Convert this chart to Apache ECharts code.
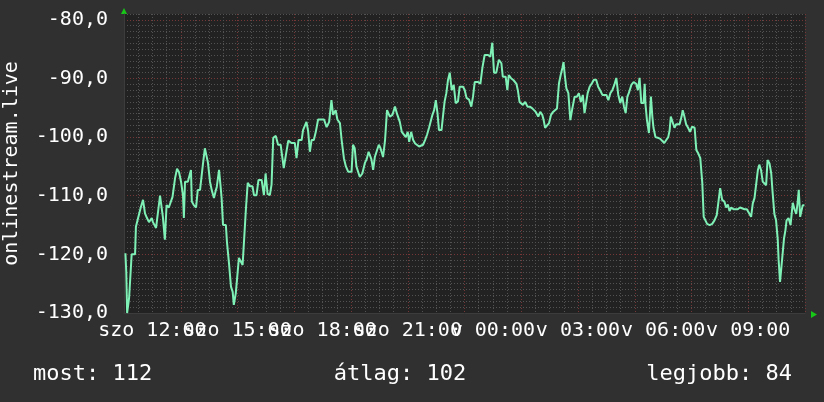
<!DOCTYPE html>
<html>
<head>
<meta charset="utf-8">
<script src="https://cdn.jsdelivr.net/npm/echarts@6/dist/echarts.min.js"></script>
<style>
html, body { margin: 0; padding: 0; background: #303030; }
#chart { width: 824px; height: 402px; }
</style>
</head>
<body>
<div id="chart"></div>
<script>
// hours since saturday 00:00 (11 = szo 11:00, 35 = v 11:00)
const hours = [
  11.05, 11.08, 11.11, 11.14, 11.18, 11.24, 11.27, 11.39, 11.42, 11.49, 11.59, 11.67, 11.74, 11.81, 11.88, 11.98,
  12.02, 12.13, 12.20, 12.27, 12.34, 12.37, 12.44, 12.50, 12.58, 12.64, 12.71, 12.80, 12.87, 12.94,
  13.01, 13.08, 13.11, 13.15, 13.25, 13.32, 13.36, 13.39, 13.46, 13.54, 13.60, 13.68, 13.74, 13.78, 13.85, 13.91, 13.96,
  14.03, 14.09, 14.17, 14.24, 14.27, 14.35, 14.40, 14.44, 14.49, 14.59, 14.63, 14.70, 14.77, 14.83, 14.87, 14.94,
  15.00, 15.05, 15.12, 15.18, 15.25, 15.30, 15.36, 15.44, 15.53, 15.58, 15.67, 15.74, 15.85, 15.93, 15.99,
  16.06, 16.14, 16.20, 16.26, 16.35, 16.43, 16.52, 16.57, 16.63, 16.70, 16.79, 16.85, 16.90,
  17.02, 17.08, 17.15, 17.26, 17.31, 17.43, 17.49, 17.55, 17.61, 17.69, 17.76, 17.84, 17.96,
  18.05, 18.14, 18.23, 18.31, 18.37, 18.46, 18.52, 18.61, 18.67, 18.75, 18.82, 18.90,
  19.02, 19.07, 19.13, 19.19, 19.25, 19.31, 19.40, 19.49, 19.55, 19.62, 19.66, 19.72, 19.78, 19.84, 19.92, 19.98,
  20.04, 20.13, 20.20, 20.27, 20.37, 20.46, 20.55, 20.62, 20.72, 20.79, 20.86, 20.93,
  21.00, 21.05, 21.12, 21.19, 21.26, 21.33, 21.40, 21.47, 21.54, 21.61, 21.68, 21.75, 21.81, 21.87, 21.93, 21.99,
  22.05, 22.10, 22.19, 22.24, 22.30, 22.36, 22.42, 22.48, 22.55, 22.62, 22.69, 22.77, 22.83, 22.95,
  23.01, 23.07, 23.16, 23.24, 23.30, 23.36, 23.48, 23.56, 23.63, 23.71, 23.83, 23.91, 23.98,
  24.04, 24.12, 24.21, 24.30, 24.35, 24.45, 24.51, 24.56, 24.65, 24.73, 24.83, 24.88, 24.94,
  25.00, 25.06, 25.14, 25.22, 25.30, 25.39, 25.45, 25.51, 25.60, 25.67, 25.74, 25.79, 25.84, 25.91, 25.98,
  26.05, 26.12, 26.19, 26.26, 26.33, 26.39, 26.45, 26.49, 26.54, 26.59, 26.66, 26.73, 26.79, 26.88, 26.96,
  27.03, 27.10, 27.17, 27.23, 27.29, 27.34, 27.41, 27.49, 27.56, 27.64, 27.71, 27.78, 27.86, 27.93,
  28.00, 28.07, 28.14, 28.21, 28.28, 28.35, 28.42, 28.49, 28.56, 28.62, 28.68, 28.74, 28.79, 28.88, 28.96,
  29.05, 29.11, 29.17, 29.23, 29.31, 29.35, 29.38, 29.43, 29.50, 29.57, 29.62, 29.66, 29.73, 29.81, 29.90, 29.97,
  30.04, 30.11, 30.18, 30.23, 30.27, 30.34, 30.40, 30.46, 30.52, 30.58, 30.65, 30.69, 30.75, 30.81, 30.88, 30.95,
  31.02, 31.11, 31.17, 31.24, 31.31, 31.38, 31.43, 31.49, 31.55, 31.64, 31.73, 31.81, 31.89, 31.96,
  32.01, 32.08, 32.16, 32.22, 32.28, 32.34, 32.40, 32.48, 32.55, 32.63, 32.71, 32.78, 32.87, 32.95,
  33.02, 33.10, 33.16, 33.22, 33.28, 33.34, 33.39, 33.45, 33.51, 33.57, 33.63, 33.68, 33.75, 33.81, 33.86, 33.92, 33.98,
  34.04, 34.07, 34.12, 34.17, 34.21, 34.26, 34.31, 34.35, 34.42, 34.49, 34.57, 34.63, 34.69, 34.74, 34.78, 34.83, 34.88, 34.92, 34.98
];
const signal = [
  -119.8, -123, -130, -130, -127.4, -127.4, -120, -120, -115.3, -115, -112, -110.7, -113, -113.8, -114.5, -113.8,
  -114.5, -115.5, -115.5, -110, -110.2, -113.6, -117.5, -111.6, -112, -112.3, -110.2, -107, -105.4, -106,
  -107.6, -110, -113.8, -107.6, -107.6, -107.6, -105.6, -111, -111.6, -112, -109, -109, -109.3, -104.7, -101.9, -101.9, -104.4,
  -107.6, -109, -110.4, -109, -108.5, -105.6, -108.2, -110.4, -115, -115, -118, -121.5, -125.5, -126.4, -128.6, -126.6,
  -126.6, -120.6, -120.3, -121.8, -121.8, -112, -107.8, -108.4, -108.4, -109.9, -109.9, -107.3, -107.3, -109.9, -106.2,
  -109.7, -109.9, -108.1, -100.1, -99.8, -101.3, -101.3, -101.3, -105.3, -103.2, -100.6, -100.5, -101,
  -101, -103.6, -100.5, -100.5, -98.8, -97.4, -99, -102.5, -100.5, -100.5, -99.1, -97, -97,
  -97, -98.3, -97.4, -93.7, -96.2, -95.4, -97, -97.6, -100.5, -103.6, -105, -105.9,
  -105.9, -101.3, -101.9, -105, -105, -106.8, -106.2, -104.4, -103.8, -102.5, -102.2, -103.8, -105.6, -103.4, -102.2, -101.3,
  -101.9, -103.4, -100.5, -95.4, -96.5, -96.2, -94.8, -96, -97.4, -99.1, -99.1, -100,
  -99.1, -100.8, -99.1, -100.5, -101.1, -101.1, -101.6, -101.9, -101.3, -100.5, -99.6, -98.4, -98.1, -96.2, -95.4, -93.7,
  -96, -98.8, -98.8, -96.5, -93.9, -92.5, -90.2, -89, -92, -91.1, -94.2, -93.9, -91.4, -91.4,
  -92, -93.3, -93.6, -94.8, -93.1, -90.6, -90.6, -90.9, -88.2, -86, -86, -86.3, -83.9,
  -89, -89, -86.8, -87.4, -89.7, -89.7, -92, -89.4, -90, -90.3, -90.9, -92, -94,
  -94, -94.5, -94, -94.8, -94.8, -95.1, -95.4, -95.7, -96.5, -95.7, -96.2, -97.1, -98.4, -98.7, -97.6,
  -96.2, -95.7, -95.7, -95.1, -90.8, -89.4, -88.2, -87.2, -89.7, -91.7, -92.5, -97.1, -95.4, -93.1, -93.1,
  -92.5, -94, -92.8, -95.9, -95.9, -92.5, -91.4, -90.8, -90.2, -90.2, -91.4, -92, -92.8, -92.5,
  -92.8, -93.7, -92.5, -92, -91.1, -89.9, -92.8, -94.2, -93.1, -94.8, -95.9, -93.1, -92.5, -91.1, -90.6,
  -90.9, -92, -89.9, -94.2, -94.2, -90.9, -94.5, -97.1, -99.3, -93.1, -96.5, -98.4, -100, -100.1, -100.3, -100.5,
  -101, -100.5, -100, -98.8, -96.5, -96.5, -98.4, -97.8, -98.1, -97.8, -96.5, -95.4, -96.5, -97.8, -98.4, -99.1,
  -98.2, -98.4, -102.2, -102.8, -103.6, -107.8, -113.6, -114.2, -114.8, -115, -114.8, -114.2, -113.3, -113,
  -108.7, -110.7, -111, -112, -111.5, -112.6, -112, -112.3, -112.3, -112.3, -112, -111.7, -112.3, -112.3,
  -112.6, -113.6, -111.3, -110.4, -110.1, -105.6, -104.7, -105.6, -107.6, -107.9, -108.2, -103.9, -104.5, -106.2, -109.5, -113.1, -114.2,
  -117.5, -120.9, -124.7, -122.1, -122.1, -117.3, -115.9, -114.2, -113.8, -115, -111.2, -112.3, -113.1, -111.2, -109, -113.6, -113.9, -111.6, -111.6
];
// time labels every 3 hours, split in two groups so they can overlap like the original
const labelHoursA = [12, 18, 24, 30];
const labelHoursB = [15, 21, 27, 33];
const dayNames = ['szo', 'v'];
const summary = ['most: 112', 'átlag: 102', 'legjobb: 84'];
const axisTitle = 'onlinestream.live';

const mono = '"DejaVu Sans Mono", monospace';
const gray = '#525252';
const red = '#743636';
const dots = [1, 2];

function timeLabel(h) {
  const day = h < 24 ? dayNames[0] : dayNames[1];
  const hh = String(h % 24).padStart(2, '0');
  return day + ' ' + hh + ':00';
}

const labelStyle = {
  formatter: timeLabel,
  showMinLabel: true, showMaxLabel: true, hideOverlap: false,
  color: '#ffffff', fontFamily: mono, fontSize: 20, margin: 8
};

let myChart = echarts.init(document.getElementById('chart'));
myChart.setOption({
  backgroundColor: '#303030',
  animation: false,
  grid: {
    left: 124, right: 19, top: 14, bottom: 89,
    containLabel: false, outerBoundsMode: 'none',
    show: true, backgroundColor: '#222222', borderWidth: 0
  },
  xAxis: [
    {
      // half hour grid; sits on top but pushed down to the bottom edge for the second label group
      type: 'value', min: 11, max: 35, interval: 0.5, position: 'top', offset: -299,
      axisLine: { show: false }, axisTick: { show: false },
      axisLabel: Object.assign({ customValues: labelHoursB, inside: true }, labelStyle),
      splitLine: { show: true, lineStyle: { color: gray, type: dots } }
    },
    {
      type: 'value', min: 11, max: 35, interval: 2, position: 'bottom',
      axisLine: { show: true, lineStyle: { color: '#3c3c3c' } },
      axisTick: { show: false },
      splitLine: { show: true, lineStyle: { color: red, type: dots } },
      axisLabel: Object.assign({ customValues: labelHoursA }, labelStyle)
    }
  ],
  yAxis: [
    {
      type: 'value', min: -130, max: -79, interval: 1, position: 'right',
      axisLine: { show: false }, axisTick: { show: false }, axisLabel: { show: false },
      splitLine: { show: true, lineStyle: { color: gray, type: dots } }
    },
    {
      type: 'value', min: -130, max: -79, interval: 10, position: 'left',
      axisLine: { show: true, lineStyle: { color: '#3c3c3c' } },
      axisTick: { show: false },
      splitLine: { show: true, lineStyle: { color: [red, red, red, red, red, red, 'rgba(0,0,0,0)'], type: dots } },
      axisLabel: {
        showMaxLabel: false,
        formatter: v => (v === -79 ? '' : v.toFixed(1).replace('.', ',')),
        color: '#ffffff', fontFamily: mono, fontSize: 20, margin: 16
      },
      name: axisTitle, nameLocation: 'middle', nameRotate: 90, nameGap: 102,
      nameTextStyle: { color: '#ffffff', fontFamily: mono, fontSize: 20 }
    }
  ],
  series: [
    {
      type: 'line',
      xAxisIndex: 1,
      yAxisIndex: 1,
      showSymbol: false,
      symbol: 'none',
      lineStyle: { color: '#7ff0b6', width: 2 },
      data: hours.map((h, i) => [h, signal[i]])
    }
  ],
  graphic: [
    { type: 'polygon', shape: { points: [[121, 14], [127, 14], [124, 8]] }, style: { fill: '#18c818' } },
    { type: 'polygon', shape: { points: [[811, 311], [811, 318], [817, 314.5]] }, style: { fill: '#18c818' } },
    { type: 'text', x: 33, y: 374, style: { text: summary[0], font: '22px ' + mono, fill: '#ffffff', align: 'left', verticalAlign: 'middle' } },
    { type: 'text', x: 400, y: 374, style: { text: summary[1], font: '22px ' + mono, fill: '#ffffff', align: 'center', verticalAlign: 'middle' } },
    { type: 'text', x: 792, y: 374, style: { text: summary[2], font: '22px ' + mono, fill: '#ffffff', align: 'right', verticalAlign: 'middle' } }
  ]
});
</script>
</body>
</html>
